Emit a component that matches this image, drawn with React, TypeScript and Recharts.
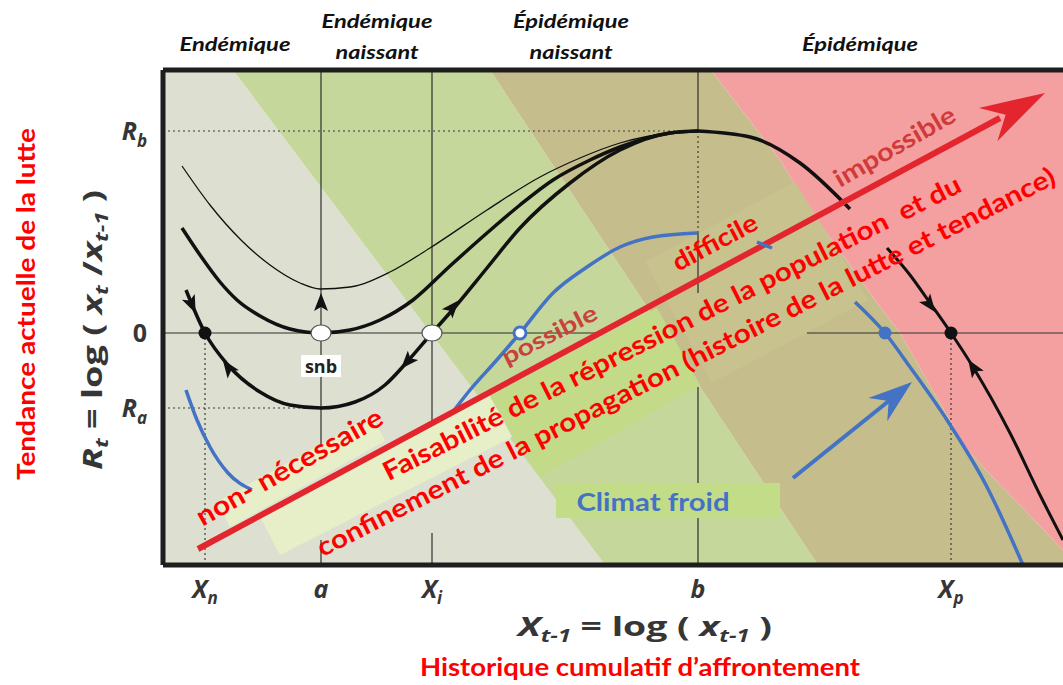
import React from 'react';
import { ComposedChart, XAxis, YAxis, Line, Area, Scatter } from 'recharts';

type Pt = [number, number];

// picture units: x = pixels right of the left frame, y = pixels above the bottom frame
const X_MAX = 900;
const Y_MAX = 495;
const PLOT_LEFT = 163;

const xTicks = [42, 158, 269, 535, 788];
const xTickLabels: [string, string][] = [['X', 'n'], ['a', ''], ['X', 'i'], ['b', ''], ['X', 'p']];
const yTicks = [434, 232, 157];
const yTickLabels: [string, string][] = [['R', 'b'], ['0', ''], ['R', 'a']];
const regionTicks = [72, 214, 408, 697];
const regionLabels: string[][] = [['Endémique'], ['Endémique', 'naissant'], ['Épidémique', 'naissant'], ['Épidémique']];

// background zones
const zoneGrey: Pt[] = [[0, 495], [70, 495], [442, 0], [0, 0]];
const zoneGreen: Pt[] = [[70, 495], [327, 495], [655, 0], [442, 0]];
const zoneTan: Pt[] = [[327, 495], [548, 495], [617, 405], [647, 355], [712, 265], [737, 232], [804, 115], [900, 15], [900, 0], [655, 0]];
const zonePink: Pt[] = [[548, 495], [900, 495], [900, 15], [804, 115], [737, 232], [712, 265], [647, 355], [617, 405]];

// panels behind the diagonal texts
const panelNonNecessaire: Pt[] = [[54, 63], [209, 149], [222, 124], [67, 38]];
const panelFaisabilite: Pt[] = [[97, 48], [327, 170], [349, 128], [117, 10]];
const panelPropagation: Pt[] = [[327, 168], [494, 257], [537, 180], [377, 88]];
const panelHistoire: Pt[] = [[482, 303], [632, 383], [705, 265], [549, 182]];
const panelClimat: Pt[] = [[393, 82], [617, 82], [617, 47], [393, 47]];

// trajectories
const thinCurve: Pt[] = [[19, 399], [47, 360], [78, 325], [107, 300], [137, 282], [157, 276], [187, 278], [227, 293], [267, 317], [324, 355], [377, 388], [417, 407], [457, 422], [507, 432], [535, 434]];
const middleCurve: Pt[] = [[19, 337], [37, 310], [57, 283], [74, 265], [97, 249], [127, 236], [158, 232], [187, 235], [217, 245], [250, 265], [287, 299], [324, 332], [357, 360], [390, 385], [427, 405], [457, 418], [507, 432], [535, 434]];
const lowerCurve: Pt[] = [[23, 275], [42, 232], [65, 200], [97, 173], [127, 160], [158, 157], [192, 163], [222, 180], [244, 203], [269, 232], [292, 258], [324, 297], [357, 337], [407, 382], [457, 415], [507, 432], [535, 434]];
const fallUpper: Pt[] = [[535, 434], [587, 428], [637, 402], [687, 356]];
const fallLower: Pt[] = [[724, 317], [747, 290], [767, 262], [788, 232], [810, 198], [847, 132], [877, 70], [900, 25]];
const blueLeft: Pt[] = [[23, 175], [34, 145], [47, 118], [65, 92], [89, 75]];
const blueMiddle: Pt[] = [[289, 152], [307, 175], [332, 203], [357, 232], [390, 272], [424, 298], [457, 318], [490, 328], [534, 332]];
const blueBit: Pt[] = [[594, 323], [609, 317]];
const blueRight: Pt[] = [[692, 263], [722, 232], [747, 198], [784, 145], [824, 78], [860, 0]];
const redShaft: Pt[] = [[35, 16], [837, 447]];
const blueShaft: Pt[] = [[630, 87], [727, 165]];

const gridSolid: Pt[][] = [
  [[158, 495], [158, 118]], [[158, 25], [158, 0]],
  [[269, 495], [269, 140]], [[269, 32], [269, 0]],
  [[535, 495], [535, 434]], [[535, 332], [535, 272]], [[535, 178], [535, 82]], [[535, 47], [535, 0]],
  [[0, 232], [437, 232]], [[644, 232], [900, 232]],
];
const gridDotted: Pt[][] = [
  [[0, 434], [535, 434]], [[535, 434], [535, 332]],
  [[0, 157], [158, 157]],
  [[42, 232], [42, 0]], [[788, 232], [788, 0]],
];

const equilibria = [
  { x: 42, y: 232, kind: 'stable' },
  { x: 158, y: 232, kind: 'saddle' },
  { x: 269, y: 232, kind: 'saddle' },
  { x: 357, y: 232, kind: 'blueOpen' },
  { x: 722, y: 232, kind: 'blueStable' },
  { x: 788, y: 232, kind: 'stable' },
];
const flowArrows = [
  { x: 29, y: 260, angle: 66 },
  { x: 65, y: 198, angle: -126 },
  { x: 244, y: 203, angle: 132 },
  { x: 290, y: 258, angle: -49 },
  { x: 158, y: 263, angle: -90 },
  { x: 767, y: 260, angle: 53 },
  { x: 810, y: 198, angle: -123 },
];
const arrowTips = [
  { x: 882, y: 472, angle: -29, kind: 'red' },
  { x: 749, y: 183, angle: -39, kind: 'blue' },
];
const snbPoint = [{ x: 158, y: 198 }];

const notes = [
  { id: 'nn', text: 'non- nécessaire', x: 131, y: 90, angle: -29.5 },
  { id: 'f1', text: 'Faisabilité de la répression de la population  et du', x: 513, y: 229, angle: -26.8 },
  { id: 'f2', text: 'confinement de la propagation (histoire de la lutte et tendance)', x: 527, y: 195, angle: -27 },
  { id: 'pos', text: 'possible', x: 390, y: 223, angle: -27 },
  { id: 'dif', text: 'difficile', x: 556, y: 315, angle: -28 },
  { id: 'imp', text: 'impossible', x: 736, y: 411, angle: -30 },
  { id: 'cf', text: 'Climat froid', x: 490, y: 54, angle: 0 },
];
const NOTE_STYLE: Record<string, { size: number; len: number; color: string }> = {
  nn: { size: 27, len: 210, color: '#ff0000' },
  f1: { size: 26, len: 644, color: '#ff0000' },
  f2: { size: 26, len: 825, color: '#ff0000' },
  pos: { size: 23, len: 104, color: '#c8423c' },
  dif: { size: 25, len: 93, color: '#ff0000' },
  imp: { size: 25, len: 136, color: '#d23a3a' },
  cf: { size: 25, len: 153, color: '#4472c4' },
};
const WORD_WIDTH: Record<string, number> = { 'Endémique': 111, 'Épidémique': 116, 'naissant': 83 };

const FONT_TXT = "Lato, 'Open Sans', sans-serif";
const FONT_AX = "'Open Sans', 'DejaVu Sans', sans-serif";
const INK = '#111';
const AX_INK = '#363636';
const BLUE = '#4472c4';

const toXY = (pts: Pt[]) => pts.map(([x, y]) => ({ x, y }));

// vertical slices of a polygon -> [low, high] per vertex x
const toRange = (poly: Pt[]) => {
  const xs = Array.from(new Set(poly.map((p) => p[0]))).sort((a, b) => a - b);
  return xs.map((x) => {
    const ys: number[] = [];
    for (let i = 0; i < poly.length; i++) {
      const [x1, y1] = poly[i];
      const [x2, y2] = poly[(i + 1) % poly.length];
      if (x1 === x2) {
        if (x1 === x) ys.push(y1, y2);
        continue;
      }
      if ((x - x1) * (x - x2) <= 0) ys.push(y1 + ((y2 - y1) * (x - x1)) / (x2 - x1));
    }
    return { x, range: [Math.min(...ys), Math.max(...ys)] };
  });
};

const renderXTick = (p: any) => {
  const i = xTicks.indexOf(p.payload.value);
  const [main, sub] = xTickLabels[i] || ['', ''];
  return (
    <text x={p.x} y={p.y + 33} textAnchor="middle" fill={AX_INK} fontFamily={FONT_AX} fontWeight={700} fontStyle="italic" fontSize={25}>
      {main}
      {sub && <tspan fontSize={17} dy={6}>{sub}</tspan>}
    </text>
  );
};

const renderYTick = (p: any) => {
  const i = yTicks.indexOf(p.payload.value);
  const [main, sub] = yTickLabels[i] || ['', ''];
  return (
    <text x={p.x - 16} y={p.y + 9} textAnchor="end" fill={AX_INK} fontFamily={FONT_AX} fontWeight={700} fontStyle={sub ? 'italic' : 'normal'} fontSize={25}>
      {main}
      {sub && <tspan fontSize={17} dy={7}>{sub}</tspan>}
    </text>
  );
};

// zone names above the frame
const RegionLabels = () => (
  <g>
    {regionTicks.map((t, i) => {
      const lines = regionLabels[i];
      const ys = lines.length === 1 ? [51] : [28, 59];
      return lines.map((w, k) => (
        <text key={`${i}-${k}`} x={PLOT_LEFT + t} y={ys[k]} textAnchor="middle" fill={INK} fontFamily={FONT_TXT} fontWeight={700} fontStyle="italic" fontSize={19} textLength={WORD_WIDTH[w]} lengthAdjust="spacingAndGlyphs">
          {w}
        </text>
      ));
    })}
  </g>
);

const renderXTitle = () => (
  <g>
    <RegionLabels />
    <text x={645} y={636} textAnchor="middle" fill={AX_INK} fontFamily={FONT_AX} fontWeight={700} fontSize={27} textLength={254} lengthAdjust="spacingAndGlyphs">
      <tspan fontStyle="italic">X</tspan>
      <tspan fontSize={17} dy={6} fontStyle="italic">t-1</tspan>
      <tspan dy={-6}> = log ( </tspan>
      <tspan fontStyle="italic">x</tspan>
      <tspan fontSize={17} dy={6} fontStyle="italic">t-1</tspan>
      <tspan dy={-6}> )</tspan>
    </text>
    <text x={640} y={676} textAnchor="middle" fill="#ff0000" fontFamily={FONT_TXT} fontWeight={700} fontSize={24} textLength={440} lengthAdjust="spacingAndGlyphs">
      Historique cumulatif d’affrontement
    </text>
  </g>
);

const renderYTitle = () => (
  <g>
    <text x={102} y={330} transform="rotate(-90 102 330)" textAnchor="middle" fill={AX_INK} fontFamily={FONT_AX} fontWeight={700} fontSize={26} textLength={280} lengthAdjust="spacingAndGlyphs">
      <tspan fontStyle="italic">R</tspan>
      <tspan fontSize={17} dy={6} fontStyle="italic">t</tspan>
      <tspan dy={-6}> = log ( </tspan>
      <tspan fontStyle="italic">x</tspan>
      <tspan fontSize={17} dy={6} fontStyle="italic">t</tspan>
      <tspan dy={-6}> /</tspan>
      <tspan fontStyle="italic">x</tspan>
      <tspan fontSize={17} dy={6} fontStyle="italic">t-1</tspan>
      <tspan dy={-6}> )</tspan>
    </text>
    <text x={35} y={304} transform="rotate(-90 35 304)" textAnchor="middle" fill="#ff0000" fontFamily={FONT_TXT} fontWeight={700} fontSize={24} textLength={352} lengthAdjust="spacingAndGlyphs">
      Tendance actuelle de la lutte
    </text>
  </g>
);

const FlowHead = (p: any) => (
  <polygon points="9,0 -9,-7 -5,0 -9,7" fill={INK} transform={`translate(${p.cx},${p.cy}) rotate(${p.payload.angle})`} />
);

const TipHead = (p: any) => {
  const red = p.payload.kind === 'red';
  return (
    <polygon
      points={red ? '0,0 -65,-19 -45,0 -65,19' : '0,0 -44,-15 -30,0 -44,15'}
      fill={red ? '#e3262e' : BLUE}
      transform={`translate(${p.cx},${p.cy}) rotate(${p.payload.angle})`}
    />
  );
};

const EquilibriumDot = (p: any) => {
  const { cx, cy, payload } = p;
  switch (payload.kind) {
    case 'stable':
      return <circle cx={cx} cy={cy} r={6.5} fill={INK} />;
    case 'saddle':
      return <ellipse cx={cx} cy={cy} rx={10} ry={8} fill="#fff" stroke="#555" strokeWidth={1.2} />;
    case 'blueOpen':
      return <circle cx={cx} cy={cy} r={6} fill="#fff" stroke={BLUE} strokeWidth={3} />;
    default:
      return <circle cx={cx} cy={cy} r={6.5} fill={BLUE} />;
  }
};

const SnbTag = (p: any) => (
  <g>
    <rect x={p.cx - 20} y={p.cy - 12} width={40} height={22} fill="#fff" />
    <text x={p.cx} y={p.cy + 6} textAnchor="middle" fill="#222" fontFamily={FONT_AX} fontWeight={700} fontSize={18}>
      snb
    </text>
  </g>
);

const NoteText = (p: any) => {
  const { cx, cy, payload } = p;
  const s = NOTE_STYLE[payload.id];
  return (
    <text
      x={cx}
      y={cy}
      transform={`rotate(${payload.angle} ${cx} ${cy})`}
      textAnchor="middle"
      fill={s.color}
      fontFamily={FONT_TXT}
      fontWeight={700}
      fontSize={s.size}
      textLength={s.len}
      lengthAdjust="spacingAndGlyphs"
      style={{ whiteSpace: 'pre' }}
    >
      {payload.text}
    </text>
  );
};

const zoneArea = (key: string, poly: Pt[], fill: string) => (
  <Area key={key} data={toRange(poly)} dataKey="range" type="linear" stroke="none" fill={fill} fillOpacity={1} dot={false} activeDot={false} isAnimationActive={false} />
);

const curve = (key: string, pts: Pt[], color: string, width: number, kind: 'monotone' | 'linear' = 'monotone', dash?: string) => (
  <Line key={key} data={toXY(pts)} dataKey="y" type={kind} stroke={color} strokeWidth={width} strokeDasharray={dash} dot={false} activeDot={false} isAnimationActive={false} />
);

export default function App() {
  const frame = { stroke: '#1e1e1e', strokeWidth: 5 };
  return (
    <div style={{ position: 'absolute', left: 0, top: 0, width: 1063, height: 685, background: '#fff' }}>
      <ComposedChart width={1063} height={685} margin={{ top: 0, right: 0, bottom: 90, left: 0 }}>
        <XAxis dataKey="x" type="number" domain={[0, X_MAX]} ticks={xTicks} interval={0} tick={renderXTick} allowDataOverflow axisLine={frame} tickLine={false} tickSize={0} tickMargin={0} height={30} label={renderXTitle} />
        <XAxis xAxisId="top" orientation="top" type="number" domain={[0, X_MAX]} ticks={regionTicks} tick={false} allowDataOverflow axisLine={frame} tickLine={false} tickSize={0} tickMargin={0} height={70} />
        <YAxis dataKey="y" type="number" domain={[0, Y_MAX]} ticks={yTicks} interval={0} tick={renderYTick} allowDataOverflow axisLine={frame} tickLine={false} tickSize={0} tickMargin={0} width={163} label={renderYTitle} />

        {zoneArea('grey', zoneGrey, '#dde0d0')}
        {zoneArea('green', zoneGreen, '#c6d79b')}
        {zoneArea('tan', zoneTan, '#c5be8c')}
        {zoneArea('pink', zonePink, '#f4a0a1')}
        {zoneArea('pNN', panelNonNecessaire, '#e7efc9')}
        {zoneArea('pF', panelFaisabilite, '#e7efc9')}
        {zoneArea('pP', panelPropagation, '#c3da88')}
        {zoneArea('pH', panelHistoire, '#c8c28f')}
        {zoneArea('pC', panelClimat, '#c3dc88')}

        {gridSolid.map((s, i) => curve(`gs${i}`, s, '#2e2e2e', 1.2, 'linear'))}
        {gridDotted.map((s, i) => curve(`gd${i}`, s, '#3a3a3a', 1.2, 'linear', '2 3'))}

        {curve('blueLeft', blueLeft, BLUE, 3.5)}
        {curve('blueMiddle', blueMiddle, BLUE, 3.5)}
        {curve('blueRight', blueRight, BLUE, 3.5)}
        {curve('thin', thinCurve, INK, 1.3)}
        {curve('middle', middleCurve, INK, 3.5)}
        {curve('lower', lowerCurve, INK, 3.5)}
        {curve('fallUpper', fallUpper, INK, 3.5)}
        {curve('fallLower', fallLower, INK, 3)}
        {curve('blueShaft', blueShaft, BLUE, 4, 'linear')}
        {curve('redShaft', redShaft, '#e3262e', 6, 'linear')}
        {curve('blueBit', blueBit, BLUE, 3.5, 'linear')}

        <Scatter data={flowArrows} shape={FlowHead} isAnimationActive={false} />
        <Scatter data={arrowTips} shape={TipHead} isAnimationActive={false} />
        <Scatter data={equilibria} shape={EquilibriumDot} isAnimationActive={false} />
        <Scatter data={snbPoint} shape={SnbTag} isAnimationActive={false} />
        <Scatter data={notes} shape={NoteText} isAnimationActive={false} />
      </ComposedChart>
    </div>
  );
}
